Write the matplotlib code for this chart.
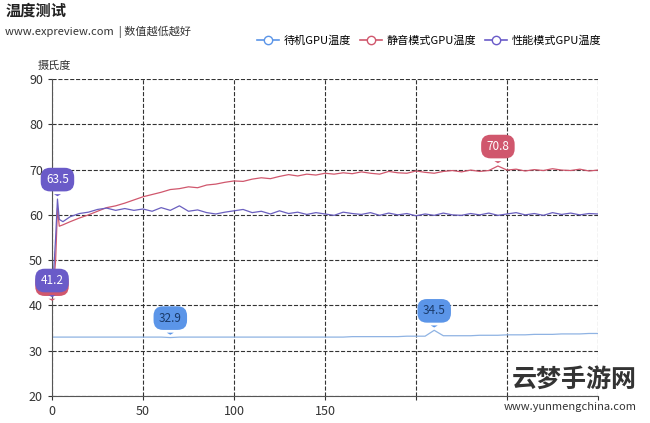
import matplotlib
matplotlib.use("Agg")
import matplotlib.pyplot as plt
from matplotlib.lines import Line2D

plt.rcParams['font.family'] = ['Noto Sans CJK SC', 'DejaVu Sans']

x_early = [0, 2, 3, 4, 6]
x_main = list(range(10, 301, 5))
xs = x_early + x_main

perf = [41.2, 55.0, 63.5, 59.0, 58.5,
        59.6, 60.3, 60.6, 61.2, 61.5, 61.0, 61.4, 61.0, 61.3, 60.8, 61.6, 61.0, 62.0, 60.8, 61.1,
        60.5, 60.2, 60.6, 60.9, 61.2, 60.5, 60.8, 60.2, 60.9, 60.3, 60.6, 60.1, 60.5, 60.2, 59.9,
        60.6, 60.3, 60.1, 60.5, 59.9, 60.4, 60.0, 60.3, 59.8, 60.2, 59.9, 60.4, 60.0, 59.9, 60.3,
        60.0, 60.4, 59.9, 60.2, 60.5, 60.0, 60.3, 59.9, 60.5, 60.1, 60.4, 60.0, 60.3, 60.2]
quiet = [40.4, 50.0, 61.5, 57.5, 57.8,
         58.5, 59.3, 60.0, 60.8, 61.6, 62.0, 62.6, 63.3, 64.0, 64.5, 65.0, 65.6, 65.8, 66.2, 66.0,
         66.6, 66.8, 67.2, 67.5, 67.4, 67.9, 68.2, 68.0, 68.5, 68.9, 68.6, 69.0, 68.8, 69.2, 69.0,
         69.3, 69.1, 69.5, 69.2, 69.0, 69.6, 69.3, 69.2, 69.7, 69.4, 69.2, 69.6, 69.8, 69.5, 69.9,
         69.6, 69.8, 70.8, 69.9, 70.1, 69.7, 70.0, 69.8, 70.2, 69.9, 69.8, 70.1, 69.7, 69.9]
idle = [33.0, 33.0, 33.0, 33.0, 33.0,
        33.0, 33.0, 33.0, 33.0, 33.0, 33.0, 33.0, 33.0, 33.0, 33.0, 33.0, 32.9, 33.0, 33.0, 33.0,
        33.0, 33.0, 33.0, 33.0, 33.0, 33.0, 33.0, 33.0, 33.0, 33.0, 33.0, 33.0, 33.0, 33.0, 33.0,
        33.0, 33.1, 33.1, 33.1, 33.1, 33.1, 33.1, 33.2, 33.2, 33.2, 34.5, 33.3, 33.3, 33.3, 33.3,
        33.4, 33.4, 33.4, 33.5, 33.5, 33.5, 33.6, 33.6, 33.6, 33.7, 33.7, 33.7, 33.8, 33.8]

names = ['待机GPU温度', '静音模式GPU温度', '性能模式GPU温度']
line_colors = ['#8fb3e3', '#d0576d', '#6a5fbf']
pin_colors = ['#5b95e8', '#d0576d', '#6a5bc8']
marks = [  # (series index, x, value)
    (0, 65, 32.9), (0, 210, 34.5),
    (1, 0, 40.4), (1, 245, 70.8),
    (2, 0, 41.2), (2, 3, 63.5),
]

fig = plt.figure(figsize=(6.5, 4.23), dpi=100)
ax = fig.add_axes([0.08, 0.064, 0.84, 0.749])
for ys, c in zip([idle, quiet, perf], line_colors):
    ax.plot(xs, ys, color=c, lw=0.9)

ax.set_xlim(0, 300)
ax.set_ylim(20, 90)
ax.set_xticks(range(0, 301, 50))
ax.set_yticks(range(20, 91, 10))
ax.set_xticklabels(['0', '50', '100', '150', '', '', ''])
ax.grid(True, ls='--', color='#333333', lw=0.8)
for s in ['top', 'right']:
    ax.spines[s].set_visible(False)
for s in ['left', 'bottom']:
    ax.spines[s].set_color('#555555')
ax.tick_params(colors='#333333', labelsize=9, length=3)

for si, mx, mv in marks:
    c = pin_colors[si]
    ax.annotate(f'{mv}', xy=(mx, mv), xytext=(0, 14), textcoords='offset points',
                ha='center', va='center', fontsize=8.5, color='white' if si else '#1a3a6a',
                bbox=dict(boxstyle='round,pad=0.45,rounding_size=0.8', fc=c, ec='none'),
                arrowprops=dict(arrowstyle='wedge,tail_width=0.6', color=c, lw=0), zorder=5)

fig.text(0.008, 0.975, '温度测试', fontsize=11, fontweight='bold', color='#222222', va='center')
fig.text(0.008, 0.925, 'www.expreview.com  | 数值越低越好', fontsize=8, color='#333333', va='center')
fig.text(0.058, 0.845, '摄氏度', fontsize=8, color='#333333', va='center')

handles = [Line2D([], [], color=c, marker='o', mfc='white', mec=c, ms=6, lw=1.2) for c in pin_colors]
fig.legend(handles, names, loc='center', bbox_to_anchor=(0.66, 0.903), ncol=3, frameon=False,
           fontsize=8, handlelength=2, handletextpad=0.4, columnspacing=0.8)

fig.text(0.98, 0.03, 'www.yunmengchina.com', fontsize=8, color='#333333', ha='right')
fig.text(0.98, 0.085, '云梦手游网', fontsize=18, fontweight='bold', color='#333333', ha='right')

fig.savefig('out.png', dpi=100)
